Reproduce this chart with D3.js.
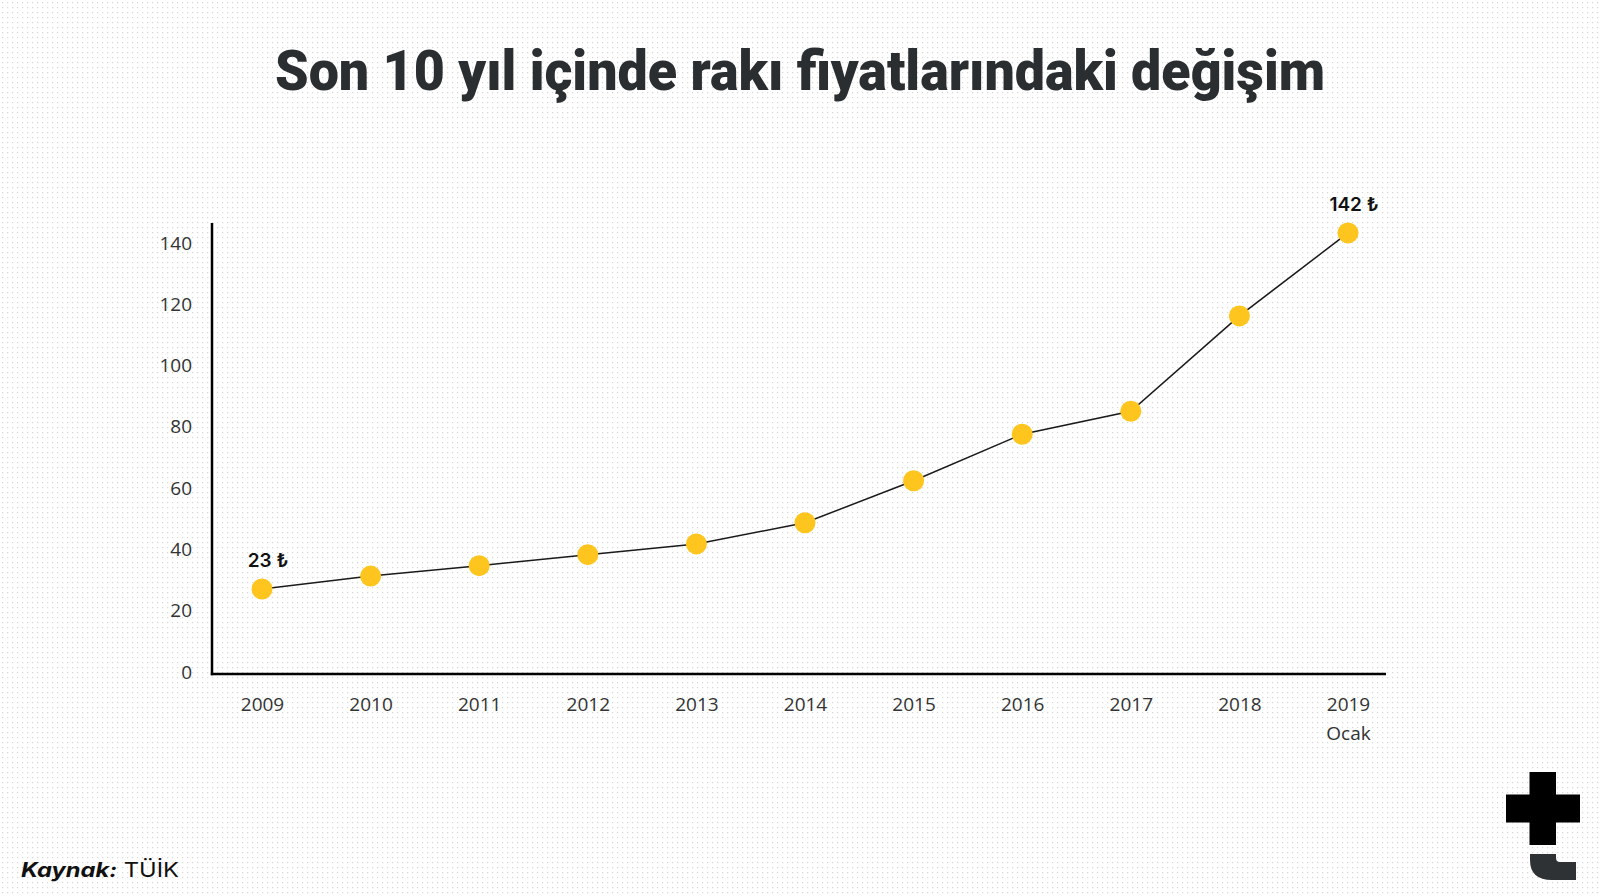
<!DOCTYPE html>
<html>
<head>
<meta charset="utf-8">
<script src="https://cdn.jsdelivr.net/npm/d3@7"></script>
<style>
  html, body { margin: 0; padding: 0; background: #fff; }
  svg { display: block; }
</style>
</head>
<body>
<svg id="chart" width="1600" height="896"></svg>
<script>
// ---- data ----
const years = ["2009", "2010", "2011", "2012", "2013", "2014", "2015", "2016", "2017", "2018", "2019"];
const yearSub = ["", "", "", "", "", "", "", "", "", "", "Ocak"];
const prices = [27.1, 31.3, 34.7, 38.3, 41.8, 48.7, 62.4, 77.6, 85.1, 116.2, 143.3];
const yTicks = [0, 20, 40, 60, 80, 100, 120, 140];
const annotations = [
  { year: "2009", text: "23 \u20BA" },
  { year: "2019", text: "142 \u20BA" }
];
const titleText = "Son 10 yıl içinde rakı fiyatlarındaki değişim";

// ---- layout ----
const W = 1600, H = 896;
const axisX = 212, plotTop = 223, plotBottom = 674, plotRight = 1386;

const svg = d3.select("#chart");

// dotted background
const defs = svg.append("defs");
const pat = defs.append("pattern")
  .attr("id", "dots").attr("width", 5).attr("height", 5)
  .attr("patternUnits", "userSpaceOnUse");
pat.append("rect").attr("width", 5).attr("height", 5).attr("fill", "#ffffff");
pat.append("rect").attr("x", 2).attr("y", 2).attr("width", 1.2).attr("height", 1.2).attr("fill", "#d6d6d6");
svg.append("rect").attr("width", W).attr("height", H).attr("fill", "url(#dots)");

// title
svg.append("text")
  .attr("x", 800).attr("y", 90)
  .attr("text-anchor", "middle")
  .attr("font-family", "Roboto, 'Noto Sans', sans-serif")
  .attr("font-weight", 900)
  .attr("font-size", 56)
  .attr("fill", "#2b2e31")
  .attr("textLength", 1050)
  .attr("lengthAdjust", "spacingAndGlyphs")
  .text(titleText);

// scales
const x = d3.scalePoint().domain(years).range([262, 1348]);
const y = d3.scaleLinear().domain([0, 140]).range([672, 243]);

// y axis labels
const yAxis = d3.axisLeft(y).tickValues(yTicks).tickSize(0).tickPadding(20);
const gy = svg.append("g").attr("transform", `translate(${axisX},0)`).call(yAxis);
gy.select(".domain").remove();
gy.selectAll("text")
  .attr("font-family", "'Open Sans', 'Noto Sans', sans-serif")
  .attr("font-size", 19)
  .attr("fill", "#333");

// x axis labels
const xAxis = d3.axisBottom(x).tickSize(0).tickPadding(24);
const gx = svg.append("g").attr("transform", `translate(0,${plotBottom})`).call(xAxis);
gx.select(".domain").remove();
gx.selectAll("text")
  .attr("font-family", "'Open Sans', 'Noto Sans', sans-serif")
  .attr("font-size", 19)
  .attr("fill", "#333");
gx.selectAll(".tick").each(function(d, i) {
  if (yearSub[i]) {
    d3.select(this).append("text")
      .attr("y", 24).attr("dy", "2.2em")
      .attr("text-anchor", "middle")
      .attr("font-family", "'Open Sans', 'Noto Sans', sans-serif")
      .attr("font-size", 19)
      .attr("fill", "#333")
      .text(yearSub[i]);
  }
});

// axis lines
svg.append("line")
  .attr("x1", axisX).attr("x2", axisX)
  .attr("y1", plotTop).attr("y2", plotBottom + 1.2)
  .attr("stroke", "#000").attr("stroke-width", 2.5);
svg.append("line")
  .attr("x1", axisX - 1.2).attr("x2", plotRight)
  .attr("y1", plotBottom).attr("y2", plotBottom)
  .attr("stroke", "#000").attr("stroke-width", 2.5);

// line
const pts = years.map((yr, i) => ({ yr, v: prices[i] }));
svg.append("path")
  .datum(pts)
  .attr("fill", "none")
  .attr("stroke", "#1a1a1a")
  .attr("stroke-width", 1.5)
  .attr("d", d3.line().x(d => x(d.yr)).y(d => y(d.v)));

// dots
svg.selectAll("circle.pt")
  .data(pts)
  .join("circle")
  .attr("class", "pt")
  .attr("cx", d => x(d.yr))
  .attr("cy", d => y(d.v))
  .attr("r", 10.5)
  .attr("fill", "#FFC51F");

// annotations
svg.selectAll("text.ann")
  .data(annotations)
  .join("text")
  .attr("class", "ann")
  .attr("x", d => x(d.year) + 6)
  .attr("y", d => y(prices[years.indexOf(d.year)]) - 22)
  .attr("text-anchor", "middle")
  .attr("font-family", "Inter, 'Noto Sans', sans-serif")
  .attr("font-weight", 600)
  .attr("font-size", 19)
  .attr("fill", "#111")
  .text(d => d.text);

// source
const src = svg.append("text")
  .attr("x", 21).attr("y", 877)
  .attr("font-family", "Inter, 'Noto Sans', sans-serif")
  .attr("font-size", 20)
  .attr("fill", "#111")
  .attr("textLength", 158)
  .attr("lengthAdjust", "spacingAndGlyphs");
src.append("tspan").attr("font-weight", 700).attr("font-style", "italic").text("Kaynak:");
src.append("tspan").attr("font-weight", 400).text(" TÜİK");

// logo
const logo = svg.append("g");
logo.append("rect").attr("x", 1529.5).attr("y", 772).attr("width", 26.5).attr("height", 73).attr("fill", "#000");
logo.append("rect").attr("x", 1506).attr("y", 794.5).attr("width", 74).attr("height", 28).attr("fill", "#000");
logo.append("path")
  .attr("d", "M1530,854 L1556,854 L1556,858 Q1556,862 1560,862 L1576,862 L1576,880 L1552,880 Q1530,880 1530,860 Z")
  .attr("fill", "#2f3235");
</script>
</body>
</html>
